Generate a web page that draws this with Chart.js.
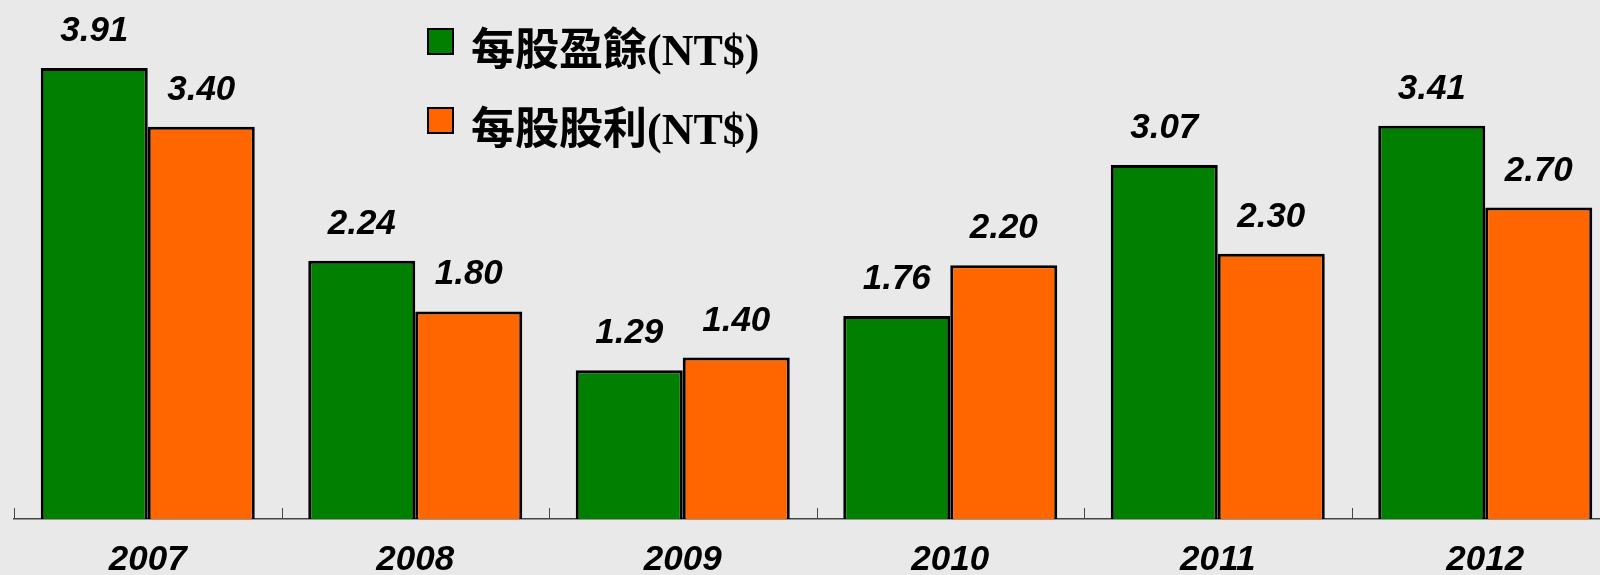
<!DOCTYPE html>
<html>
<head>
<meta charset="utf-8">
<script src="https://cdn.jsdelivr.net/npm/chart.js@4"></script>
<style>
    html, body {
        margin: 0;
        padding: 0;
        width: 1600px;
        height: 575px;
        overflow: hidden;
        background: #e9e9e9;
    }
    #wrap {
        position: absolute;
        left: 0;
        top: 0;
        width: 1625px;
        height: 600px;
    }
    #legend {
        position: absolute;
        left: 427px;
        top: 18px;
    }
    .legend-row {
        display: flex;
        align-items: center;
        height: 46px;
        margin-bottom: 33px;
    }
    .legend-box {
        width: 23px;
        height: 23px;
        border: 2px solid #000;
        margin-right: 17px;
    }
    .legend-text {
        font-family: "Liberation Serif", "Noto Sans CJK TC", serif;
        font-size: 44px;
        font-weight: bold;
        color: #000;
        position: relative;
        top: 5px;
    }
</style>
</head>
<body>
<div id="wrap"><canvas id="epsChart"></canvas></div>
<div id="legend"></div>

<script>
// chart data
const years = ["2007", "2008", "2009", "2010", "2011", "2012"];
const epsValues = [3.91, 2.24, 1.29, 1.76, 3.07, 3.41];
const dividendValues = [3.40, 1.80, 1.40, 2.20, 2.30, 2.70];
const seriesNames = ["每股盈餘(NT$)", "每股股利(NT$)"];

const labelFont = "italic bold 35px 'Liberation Sans', Arial, sans-serif";

/* --------------------------------------------------
   VALUE LABELS ABOVE EACH BAR
-------------------------------------------------- */
const valueLabels = {
    id: "valueLabels",
    afterDatasetsDraw(chart) {
        const ctx = chart.ctx;
        ctx.save();
        ctx.font = labelFont;
        ctx.fillStyle = "#000";
        ctx.textAlign = "center";
        ctx.textBaseline = "alphabetic";
        chart.data.datasets.forEach((ds, i) => {
            chart.getDatasetMeta(i).data.forEach((bar, j) => {
                ctx.fillText(ds.data[j].toFixed(2), bar.x, bar.y - 27);
            });
        });
        ctx.restore();
    }
};

/* --------------------------------------------------
   SMALL TICKS BETWEEN CATEGORIES (pointing up)
-------------------------------------------------- */
const boundaryTicks = {
    id: "boundaryTicks",
    afterDraw(chart) {
        const ctx = chart.ctx;
        const x = chart.scales.x;
        const bottom = chart.chartArea.bottom;
        const half = (x.getPixelForValue(1) - x.getPixelForValue(0)) / 2;
        ctx.save();
        ctx.strokeStyle = "#444";
        ctx.lineWidth = 1;
        for (let i = 0; i < years.length; i++) {
            const px = Math.round(x.getPixelForValue(i) - half) + 0.5;
            ctx.beginPath();
            ctx.moveTo(px, bottom);
            ctx.lineTo(px, bottom - 11);
            ctx.stroke();
        }
        ctx.restore();
    }
};

const chart = new Chart(document.getElementById("epsChart"), {
    type: "bar",
    data: {
        labels: years,
        datasets: [
            {
                label: seriesNames[0],
                data: epsValues,
                backgroundColor: "#007f00",
                borderColor: "#000",
                borderWidth: 3
            },
            {
                label: seriesNames[1],
                data: dividendValues,
                backgroundColor: "#ff6600",
                borderColor: "#000",
                borderWidth: 3
            }
        ]
    },
    options: {
        responsive: true,
        maintainAspectRatio: false,
        animation: false,
        layout: { padding: { left: 14, right: 6, top: 0, bottom: 7 } },
        datasets: {
            bar: { barPercentage: 1.0, categoryPercentage: 0.8 }
        },
        plugins: {
            legend: { display: false },
            tooltip: { enabled: false }
        },
        scales: {
            x: {
                grid: { display: false },
                border: { display: true, color: "#444", width: 1.5 },
                ticks: {
                    color: "#000",
                    padding: 12,
                    font: { family: "'Liberation Sans', Arial, sans-serif", size: 35, weight: "bold", style: "italic" }
                }
            },
            y: {
                display: false,
                min: 0,
                max: 4.5
            }
        }
    },
    plugins: [valueLabels, boundaryTicks]
});

// legend built from the chart's datasets
const legend = document.getElementById("legend");
chart.data.datasets.forEach(ds => {
    const row = document.createElement("div");
    row.className = "legend-row";
    row.innerHTML = `<div class="legend-box" style="background:${ds.backgroundColor}"></div>` +
        `<div class="legend-text">${ds.label}</div>`;
    legend.appendChild(row);
});
</script>
</body>
</html>
